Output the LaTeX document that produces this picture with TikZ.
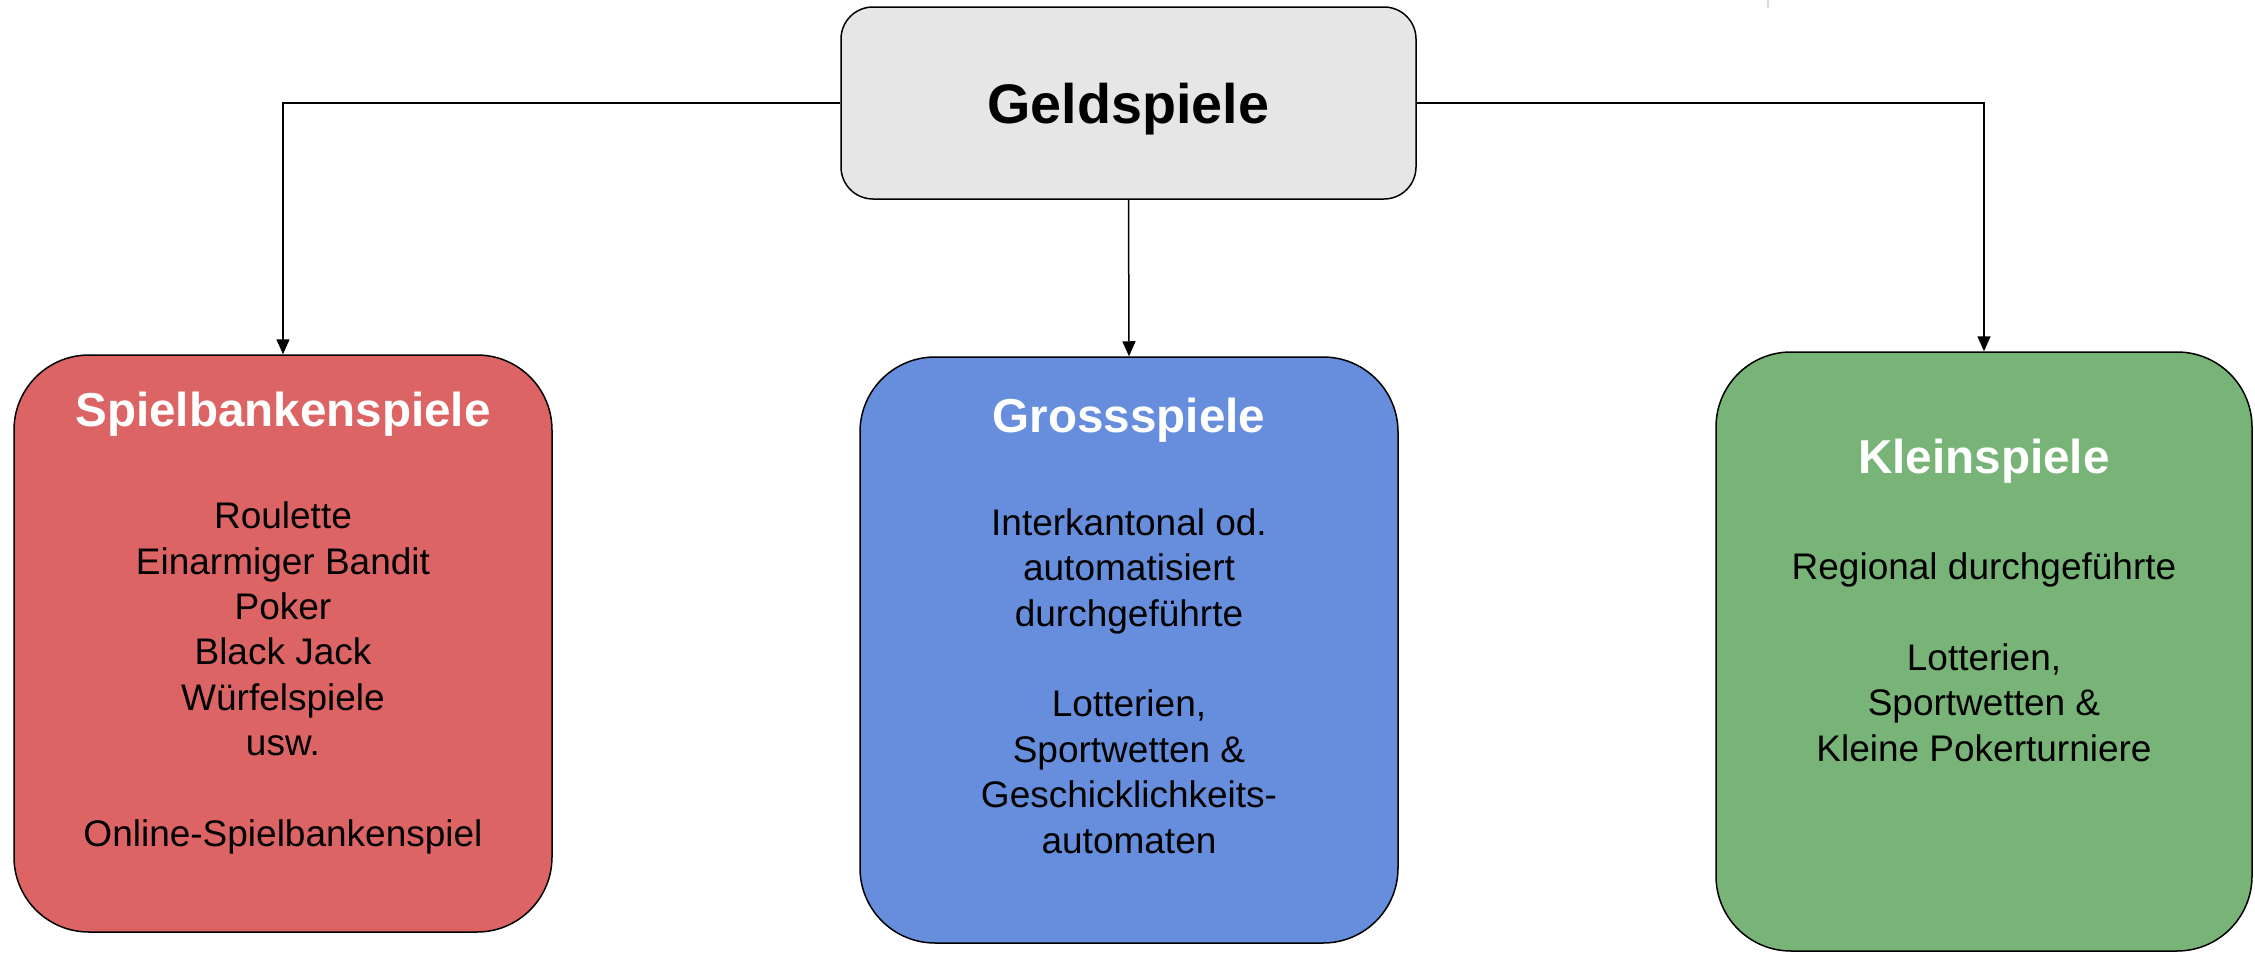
\documentclass[tikz,border=0pt]{standalone}
\usepackage{fontspec}
\setmainfont{Liberation Sans}
\usetikzlibrary{arrows.meta}
\definecolor{boxgray}{HTML}{E6E6E6}
\definecolor{boxred}{HTML}{DD6464}
\definecolor{boxblue}{HTML}{668EDC}
\definecolor{boxgreen}{HTML}{78B478}
\begin{document}
\begin{tikzpicture}[x=1pt,y=-1pt,
  catbox/.style={draw=black, line width=1.5pt, rounded corners=75pt, inner sep=0pt},
  titletext/.style={text=white, font=\bfseries\fontsize{47.6}{57}\selectfont},
  bodytext/.style={align=center, font=\fontsize{37}{45.4}\selectfont},
  conn/.style={draw=black, line width=1.5pt, -{Triangle[length=15pt,width=13pt]}}]
\useasboundingbox (0,0) rectangle (2255,953);
\draw[black!15, line width=2pt] (1768,0) -- (1768,8);
% boxes
\node[catbox, fill=boxgray, rounded corners=32pt, minimum width=575pt, minimum height=192pt,
  text height=41pt, text depth=0pt,
  font=\bfseries\fontsize{55.7}{66}\selectfont] (geld) at (1128.5,103) {Geldspiele};
\node[catbox, fill=boxred, minimum width=538pt, minimum height=577pt] (red) at (283,643.5) {};
\node[catbox, fill=boxblue, minimum width=538pt, minimum height=586pt] (blue) at (1129,650) {};
\node[catbox, fill=boxgreen, minimum width=536pt, minimum height=599pt] (green) at (1984,651.5) {};
% titles
\node[titletext] (redt) at (283,414) {Spielbankenspiele};
\node[titletext] (bluet) at (1129,420) {Grossspiele};
\node[titletext] (greent) at (1984,461) {Kleinspiele};
% bodies
\node[bodytext] (redb) at (283,678) {Roulette\\Einarmiger Bandit\\Poker\\Black Jack\\Würfelspiele\\usw.\\[45.4pt]Online-Spielbankenspiel};
\node[bodytext] (blueb) at (1129,681) {Interkantonal od.\\automatisiert\\durchgeführte\\[45.4pt]Lotterien,\\Sportwetten \&\\Geschicklichkeits-\\automaten};
\node[bodytext] (greenb) at (1984,657) {Regional durchgeführte\\[45.4pt]Lotterien,\\Sportwetten \&\\Kleine Pokerturniere};
% connectors
\draw[conn] (geld.west) -| (red.north);
\draw[conn] (geld.south) -- (blue.north);
\draw[conn] (geld.east) -| (green.north);
\end{tikzpicture}
\end{document}
